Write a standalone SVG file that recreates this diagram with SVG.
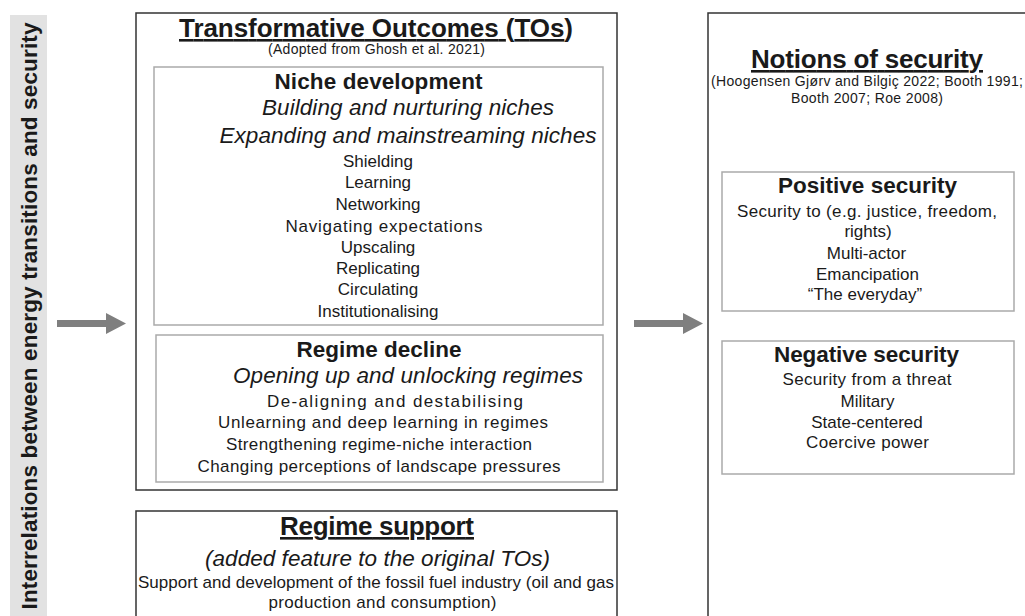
<svg xmlns="http://www.w3.org/2000/svg" width="1025" height="616" viewBox="0 0 1025 616">
<style>
.t{font-family:"Liberation Sans",Arial,sans-serif;fill:#1a1a1a;text-anchor:middle;font-size:17px}
.b{font-weight:bold;font-size:22.5px}
.h{font-weight:bold;font-size:26px;text-decoration:underline}
.i{font-style:italic;font-size:22.5px}
.s{font-size:14px}
.outer{fill:#fff;stroke:#333;stroke-width:1.5}
.inner{fill:#fff;stroke:#aaa;stroke-width:1.5}
.arrow{fill:#7f7f7f}
</style>
<rect width="1025" height="616" fill="#fff"/>
<g id="side-label">
<rect x="10" y="15" width="37" height="605" fill="#e2e2e2"/>
<text class="t b" transform="translate(37,316) rotate(-90)" textLength="587">Interrelations between energy transitions and security</text>
</g>
<g id="connectors">
<polygon class="arrow" points="57,320 106,320 106,313 126,323.5 106,334 106,327 57,327"/>
<polygon class="arrow" points="634,320 683,320 683,313 703,323.5 683,334 683,327 634,327"/>
</g>
<g id="transformative-outcomes">
<rect class="outer" x="136" y="13" width="481" height="477"/>
<text class="t h" x="376" y="37" textLength="394">Transformative Outcomes (TOs)</text>
<text class="t s" x="376.5" y="54" textLength="217">(Adopted from Ghosh et al. 2021)</text>
</g>
<g id="niche-development">
<rect class="inner" x="154" y="67" width="449" height="258"/>
<text class="t b" x="378.5" y="89" textLength="208">Niche development</text>
<text class="t i" x="408" y="115" textLength="292">Building and nurturing niches</text>
<text class="t i" x="408" y="143" textLength="377">Expanding and mainstreaming niches</text>
<text class="t" x="378" y="167">Shielding</text>
<text class="t" x="378" y="188">Learning</text>
<text class="t" x="378" y="210">Networking</text>
<text class="t" x="384" y="232" textLength="197">Navigating expectations</text>
<text class="t" x="378" y="253">Upscaling</text>
<text class="t" x="378" y="274">Replicating</text>
<text class="t" x="378" y="295">Circulating</text>
<text class="t" x="378" y="317">Institutionalising</text>
</g>
<g id="regime-decline">
<rect class="inner" x="156" y="335" width="447" height="147"/>
<text class="t b" x="379" y="357" textLength="165">Regime decline</text>
<text class="t i" x="408" y="383" textLength="350">Opening up and unlocking regimes</text>
<text class="t" x="395" y="407" textLength="256">De-aligning and destabilising</text>
<text class="t" x="383" y="428" textLength="330">Unlearning and deep learning in regimes</text>
<text class="t" x="379" y="450" textLength="306">Strengthening regime-niche interaction</text>
<text class="t" x="379" y="472" textLength="363">Changing perceptions of landscape pressures</text>
</g>
<g id="regime-support">
<rect class="outer" x="136" y="511" width="481" height="120"/>
<text class="t h" x="377" y="535" textLength="194">Regime support</text>
<text class="t i" x="377.5" y="566" textLength="345">(added feature to the original TOs)</text>
<text class="t" x="376" y="588" textLength="476">Support and development of the fossil fuel industry (oil and gas</text>
<text class="t" x="382.5" y="608" textLength="228">production and consumption)</text>
</g>
<g id="notions-of-security">
<rect class="outer" x="708" y="13" width="330" height="620"/>
<text class="t h" x="867" y="68" textLength="232">Notions of security</text>
<text class="t s" x="867" y="86" textLength="312">(Hoogensen Gjørv and Bilgiç 2022; Booth 1991;</text>
<text class="t s" x="867" y="103" textLength="152">Booth 2007; Roe 2008)</text>
</g>
<g id="positive-security">
<rect class="inner" x="722" y="172" width="292" height="139"/>
<text class="t b" x="867.5" y="193" textLength="179">Positive security</text>
<text class="t" x="867" y="217" textLength="260">Security to (e.g. justice, freedom,</text>
<text class="t" x="868" y="237">rights)</text>
<text class="t" x="866.5" y="259">Multi-actor</text>
<text class="t" x="867.5" y="280">Emancipation</text>
<text class="t" x="865" y="300">“The everyday”</text>
</g>
<g id="negative-security">
<rect class="inner" x="722" y="341" width="292" height="133"/>
<text class="t b" x="866.5" y="362" textLength="185">Negative security</text>
<text class="t" x="867" y="385" textLength="169">Security from a threat</text>
<text class="t" x="867.5" y="407">Military</text>
<text class="t" x="867" y="428">State-centered</text>
<text class="t" x="867.5" y="448" textLength="123">Coercive power</text>
</g>
</svg>
